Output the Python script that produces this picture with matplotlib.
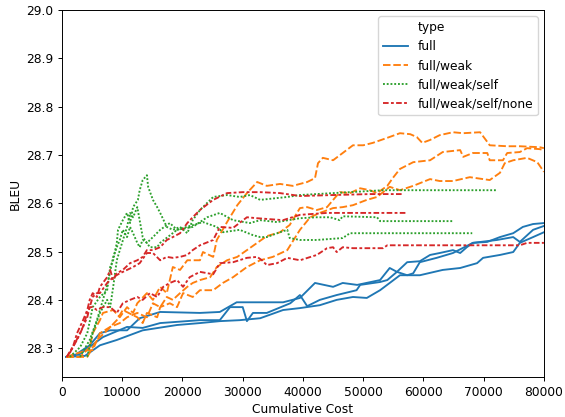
import matplotlib
matplotlib.use("Agg")
import matplotlib.pyplot as plt
from matplotlib.lines import Line2D

# full (3 runs)
full_1_x = [700, 2200, 4600, 6300, 8000, 10800, 12900, 16300, 22900, 26200, 29000, 32900, 36700, 39500,
            42000, 45000, 46600, 49000, 52800, 54400, 55600, 57300, 59400, 61100, 62700, 64900, 66100,
            67200, 68200, 70600, 72700, 74900, 76500, 78200, 80000]
full_1_y = [28.282, 28.286, 28.306, 28.331, 28.337, 28.337, 28.362, 28.375, 28.373, 28.375, 28.395, 28.395,
            28.395, 28.404, 28.435, 28.427, 28.435, 28.431, 28.441, 28.466, 28.458, 28.478, 28.480, 28.493,
            28.497, 28.503, 28.497, 28.509, 28.518, 28.520, 28.530, 28.538, 28.551, 28.557, 28.559]
full_2_x = [700, 3000, 5500, 6800, 10800, 13400, 16300, 22900, 26200, 27900, 30000, 30700, 31700, 34000,
            37900, 39500, 40700, 42800, 45600, 48900, 49500, 52800, 54000, 55600, 57300, 58300, 59400,
            62200, 64900, 68200, 72200, 74900, 76000, 78200, 80000]
full_2_y = [28.282, 28.288, 28.311, 28.323, 28.344, 28.342, 28.352, 28.358, 28.358, 28.385, 28.385, 28.356,
            28.373, 28.373, 28.393, 28.410, 28.387, 28.400, 28.410, 28.420, 28.431, 28.437, 28.441, 28.458,
            28.451, 28.455, 28.478, 28.487, 28.497, 28.518, 28.524, 28.530, 28.520, 28.545, 28.553]
full_3_x = [700, 3800, 6300, 9100, 13400, 19100, 22900, 26200, 29500, 32900, 36700, 39500, 42800, 45600,
            48300, 50600, 52800, 54400, 56100, 59400, 63200, 66100, 68900, 69900, 72700, 74900, 76000,
            78200, 80000]
full_3_y = [28.282, 28.284, 28.306, 28.317, 28.337, 28.348, 28.352, 28.356, 28.358, 28.362, 28.379, 28.383,
            28.389, 28.400, 28.406, 28.404, 28.420, 28.435, 28.451, 28.451, 28.462, 28.466, 28.476, 28.487,
            28.493, 28.499, 28.518, 28.530, 28.540]

# full/weak (3 runs)
weak_1_x = [700, 3000, 4600, 5100, 6300, 6800, 8500, 9600, 10800, 11800, 12500, 14100, 15100, 16300,
            17400, 18400, 19600, 20800, 22900, 23400, 25100, 25700, 27400, 29100, 30700, 32400, 34000,
            36200, 38300, 40700, 42000, 42500, 43300, 45000, 46600, 48300, 50000, 51600, 53900, 56100,
            57800, 58900, 59800, 61100, 62700, 64900, 66600, 69400, 70600, 71000, 73900, 76000, 79300, 80000]
weak_1_y = [28.282, 28.282, 28.302, 28.331, 28.358, 28.373, 28.379, 28.364, 28.385, 28.373, 28.393, 28.414,
            28.400, 28.427, 28.414, 28.468, 28.462, 28.482, 28.482, 28.499, 28.489, 28.524, 28.561, 28.596,
            28.621, 28.644, 28.636, 28.640, 28.636, 28.644, 28.652, 28.683, 28.694, 28.689, 28.704, 28.720,
            28.720, 28.725, 28.735, 28.745, 28.743, 28.737, 28.725, 28.731, 28.741, 28.747, 28.745, 28.747,
            28.727, 28.720, 28.718, 28.718, 28.716, 28.714]
weak_2_x = [700, 4200, 5100, 6300, 8000, 9600, 10800, 12500, 14100, 15100, 16300, 17400, 18400, 19600,
            20800, 21700, 22900, 24600, 25700, 27400, 29100, 30700, 32400, 34000, 36200, 37800, 39500,
            40700, 42300, 44000, 46100, 47800, 49500, 51100, 52300, 54000, 54900, 56100, 58300, 61100,
            63200, 66100, 66600, 68200, 70600, 71000, 73200, 73900, 76000, 77200, 79300, 80000]
weak_2_y = [28.282, 28.296, 28.296, 28.331, 28.344, 28.352, 28.364, 28.373, 28.364, 28.393, 28.385, 28.406,
            28.400, 28.414, 28.427, 28.435, 28.441, 28.447, 28.468, 28.482, 28.489, 28.503, 28.518, 28.532,
            28.540, 28.555, 28.590, 28.592, 28.586, 28.592, 28.623, 28.621, 28.631, 28.627, 28.621, 28.636,
            28.652, 28.671, 28.685, 28.689, 28.706, 28.710, 28.696, 28.704, 28.704, 28.689, 28.689, 28.704,
            28.706, 28.714, 28.712, 28.710]
weak_3_x = [700, 4200, 5800, 7500, 9100, 10100, 12500, 13400, 14100, 15800, 16300, 17900, 19100, 20100,
            21700, 22900, 25100, 26700, 28400, 30700, 32900, 35000, 37400, 39500, 41200, 42800, 45000,
            46600, 48300, 50600, 52300, 54400, 56100, 58300, 61100, 62700, 64900, 67700, 71000, 72700,
            73500, 74900, 77200, 78900, 80000]
weak_3_y = [28.282, 28.282, 28.317, 28.337, 28.358, 28.379, 28.364, 28.352, 28.373, 28.364, 28.385, 28.393,
            28.385, 28.414, 28.406, 28.420, 28.420, 28.435, 28.447, 28.468, 28.482, 28.489, 28.503, 28.545,
            28.571, 28.580, 28.590, 28.592, 28.596, 28.607, 28.613, 28.634, 28.627, 28.636, 28.650, 28.646,
            28.646, 28.654, 28.648, 28.663, 28.683, 28.689, 28.694, 28.685, 28.665]

# full/weak/self (3 runs)
self_1_x = [1300, 3000, 4200, 5100, 6300, 7500, 8000, 8500, 9100, 9300, 10100, 10800, 11300, 11800,
            12600, 12900, 13400, 14100, 14300, 15100, 15800, 16300, 17400, 18400, 19600, 20800, 21700,
            22900, 25100, 27400, 29500, 31200, 32900, 37400, 39500, 45000, 47800, 53300, 62700, 72200]
self_1_y = [28.282, 28.302, 28.331, 28.385, 28.406, 28.420, 28.468, 28.482, 28.518, 28.545, 28.565, 28.580,
            28.559, 28.592, 28.607, 28.627, 28.648, 28.658, 28.634, 28.607, 28.592, 28.580, 28.551, 28.545,
            28.551, 28.538, 28.565, 28.586, 28.613, 28.617, 28.613, 28.617, 28.607, 28.613, 28.617, 28.621,
            28.623, 28.627, 28.627, 28.627]
self_2_x = [3000, 4600, 5800, 6800, 7600, 8500, 9100, 9600, 10100, 10800, 11300, 11800, 12500, 12900,
            13400, 14100, 15100, 16300, 17900, 19100, 21700, 24100, 26200, 28400, 31200, 32900, 35700,
            39500, 42300, 44500, 46100, 46600, 52300, 52800, 64900]
self_2_y = [28.282, 28.317, 28.358, 28.400, 28.435, 28.489, 28.509, 28.524, 28.545, 28.530, 28.551, 28.538,
            28.518, 28.509, 28.524, 28.518, 28.530, 28.545, 28.559, 28.545, 28.551, 28.571, 28.580, 28.565,
            28.559, 28.565, 28.561, 28.569, 28.571, 28.571, 28.565, 28.573, 28.571, 28.563, 28.563]
self_3_x = [4200, 5100, 6300, 7500, 8000, 8500, 9100, 9600, 10800, 11300, 11800, 12500, 13400, 14600,
            15800, 16300, 19100, 23400, 25700, 26700, 29500, 31700, 32900, 34000, 36200, 37400, 37800,
            39500, 42300, 46600, 47800, 54000, 68100]
self_3_y = [28.282, 28.331, 28.373, 28.400, 28.385, 28.427, 28.482, 28.503, 28.551, 28.580, 28.571, 28.592,
            28.530, 28.509, 28.509, 28.518, 28.545, 28.561, 28.551, 28.540, 28.545, 28.534, 28.530, 28.530,
            28.540, 28.545, 28.528, 28.524, 28.524, 28.528, 28.538, 28.538, 28.538]

# full/weak/self/none (3 runs)
none_1_x = [800, 1800, 2500, 3500, 4200, 4600, 5100, 5800, 6300, 7500, 8000, 8500, 9100, 10100, 11300,
            12500, 13400, 14100, 15100, 16300, 17400, 18400, 19600, 20800, 21700, 22900, 25100, 27400,
            30000, 32900, 36200, 39500, 45000, 51100, 56600]
none_1_y = [28.282, 28.302, 28.331, 28.358, 28.379, 28.400, 28.414, 28.406, 28.427, 28.447, 28.462, 28.441,
            28.455, 28.462, 28.476, 28.482, 28.489, 28.503, 28.503, 28.509, 28.524, 28.530, 28.538, 28.559,
            28.571, 28.586, 28.607, 28.621, 28.623, 28.623, 28.621, 28.615, 28.617, 28.619, 28.619]
none_2_x = [1300, 3000, 4200, 4600, 5100, 5800, 6300, 7500, 8500, 9600, 10800, 11800, 12900, 14100,
            15100, 16300, 17400, 18400, 19600, 20800, 21700, 22900, 25100, 26200, 28400, 30700, 32400,
            36700, 39500, 44000, 46100, 57300]
none_2_y = [28.290, 28.331, 28.364, 28.385, 28.406, 28.414, 28.414, 28.435, 28.447, 28.455, 28.462, 28.468,
            28.476, 28.497, 28.497, 28.482, 28.489, 28.487, 28.489, 28.493, 28.503, 28.513, 28.524, 28.551,
            28.549, 28.571, 28.569, 28.565, 28.576, 28.580, 28.580, 28.580]
none_3_x = [800, 2500, 3500, 4200, 4600, 5100, 5800, 6800, 8000, 9100, 10100, 11300, 12500, 13400, 14600,
            15800, 16800, 17900, 19100, 20100, 21200, 22900, 25100, 26200, 28400, 30700, 32400, 33200,
            34000, 35700, 37400, 39500, 42300, 44000, 45000, 45600, 46600, 48300, 53300, 54000, 67200,
            76000, 77200, 80000]
none_3_y = [28.282, 28.317, 28.344, 28.373, 28.385, 28.385, 28.379, 28.385, 28.385, 28.373, 28.393, 28.400,
            28.406, 28.400, 28.414, 28.406, 28.427, 28.435, 28.441, 28.427, 28.447, 28.458, 28.453, 28.476,
            28.478, 28.487, 28.489, 28.482, 28.472, 28.476, 28.487, 28.482, 28.493, 28.507, 28.509, 28.499,
            28.509, 28.507, 28.507, 28.513, 28.513, 28.513, 28.518, 28.518]

types = ["full", "full/weak", "full/weak/self", "full/weak/self/none"]
colors = ["#1f77b4", "#ff7f0e", "#2ca02c", "#d62728"]
dashes = [None, (4, 1.5), (1, 1), (3, 1.25, 1.5, 1.25)]
runs = [
    [(full_1_x, full_1_y), (full_2_x, full_2_y), (full_3_x, full_3_y)],
    [(weak_1_x, weak_1_y), (weak_2_x, weak_2_y), (weak_3_x, weak_3_y)],
    [(self_1_x, self_1_y), (self_2_x, self_2_y), (self_3_x, self_3_y)],
    [(none_1_x, none_1_y), (none_2_x, none_2_y), (none_3_x, none_3_y)],
]

# reference looks like a 640x480 figure shrunk down, so scale sizes a bit
plt.rcParams["font.size"] = 8.8
plt.rcParams["axes.linewidth"] = 0.7
plt.rcParams["xtick.major.size"] = 3.1
plt.rcParams["ytick.major.size"] = 3.1
plt.rcParams["xtick.major.width"] = 0.7
plt.rcParams["ytick.major.width"] = 0.7
plt.rcParams["xtick.major.pad"] = 3.0
plt.rcParams["ytick.major.pad"] = 3.0
lw = 1.35

fig = plt.figure(figsize=(5.65, 4.17), dpi=100)
ax = fig.add_axes([0.1097, 0.0955, 0.853, 0.8805])

handles = [Line2D([], [], linestyle="", label="type")]
for t, c, d, group in zip(types, colors, dashes, runs):
    for xs, ys in group:
        ln, = ax.plot(xs, ys, color=c, lw=lw)
        if d is not None:
            ln.set_dashes(d)
    h = Line2D([], [], color=c, lw=lw, label=t)
    if d is not None:
        h.set_dashes(d)
    handles.append(h)

ax.set_xlim(0, 80000)
ax.set_ylim(28.24, 29.0)
ax.set_xlabel("Cumulative Cost", labelpad=3)
ax.set_ylabel("BLEU", labelpad=3)
ax.legend(handles=handles, loc="upper right")

fig.savefig("out.png", dpi=100)
